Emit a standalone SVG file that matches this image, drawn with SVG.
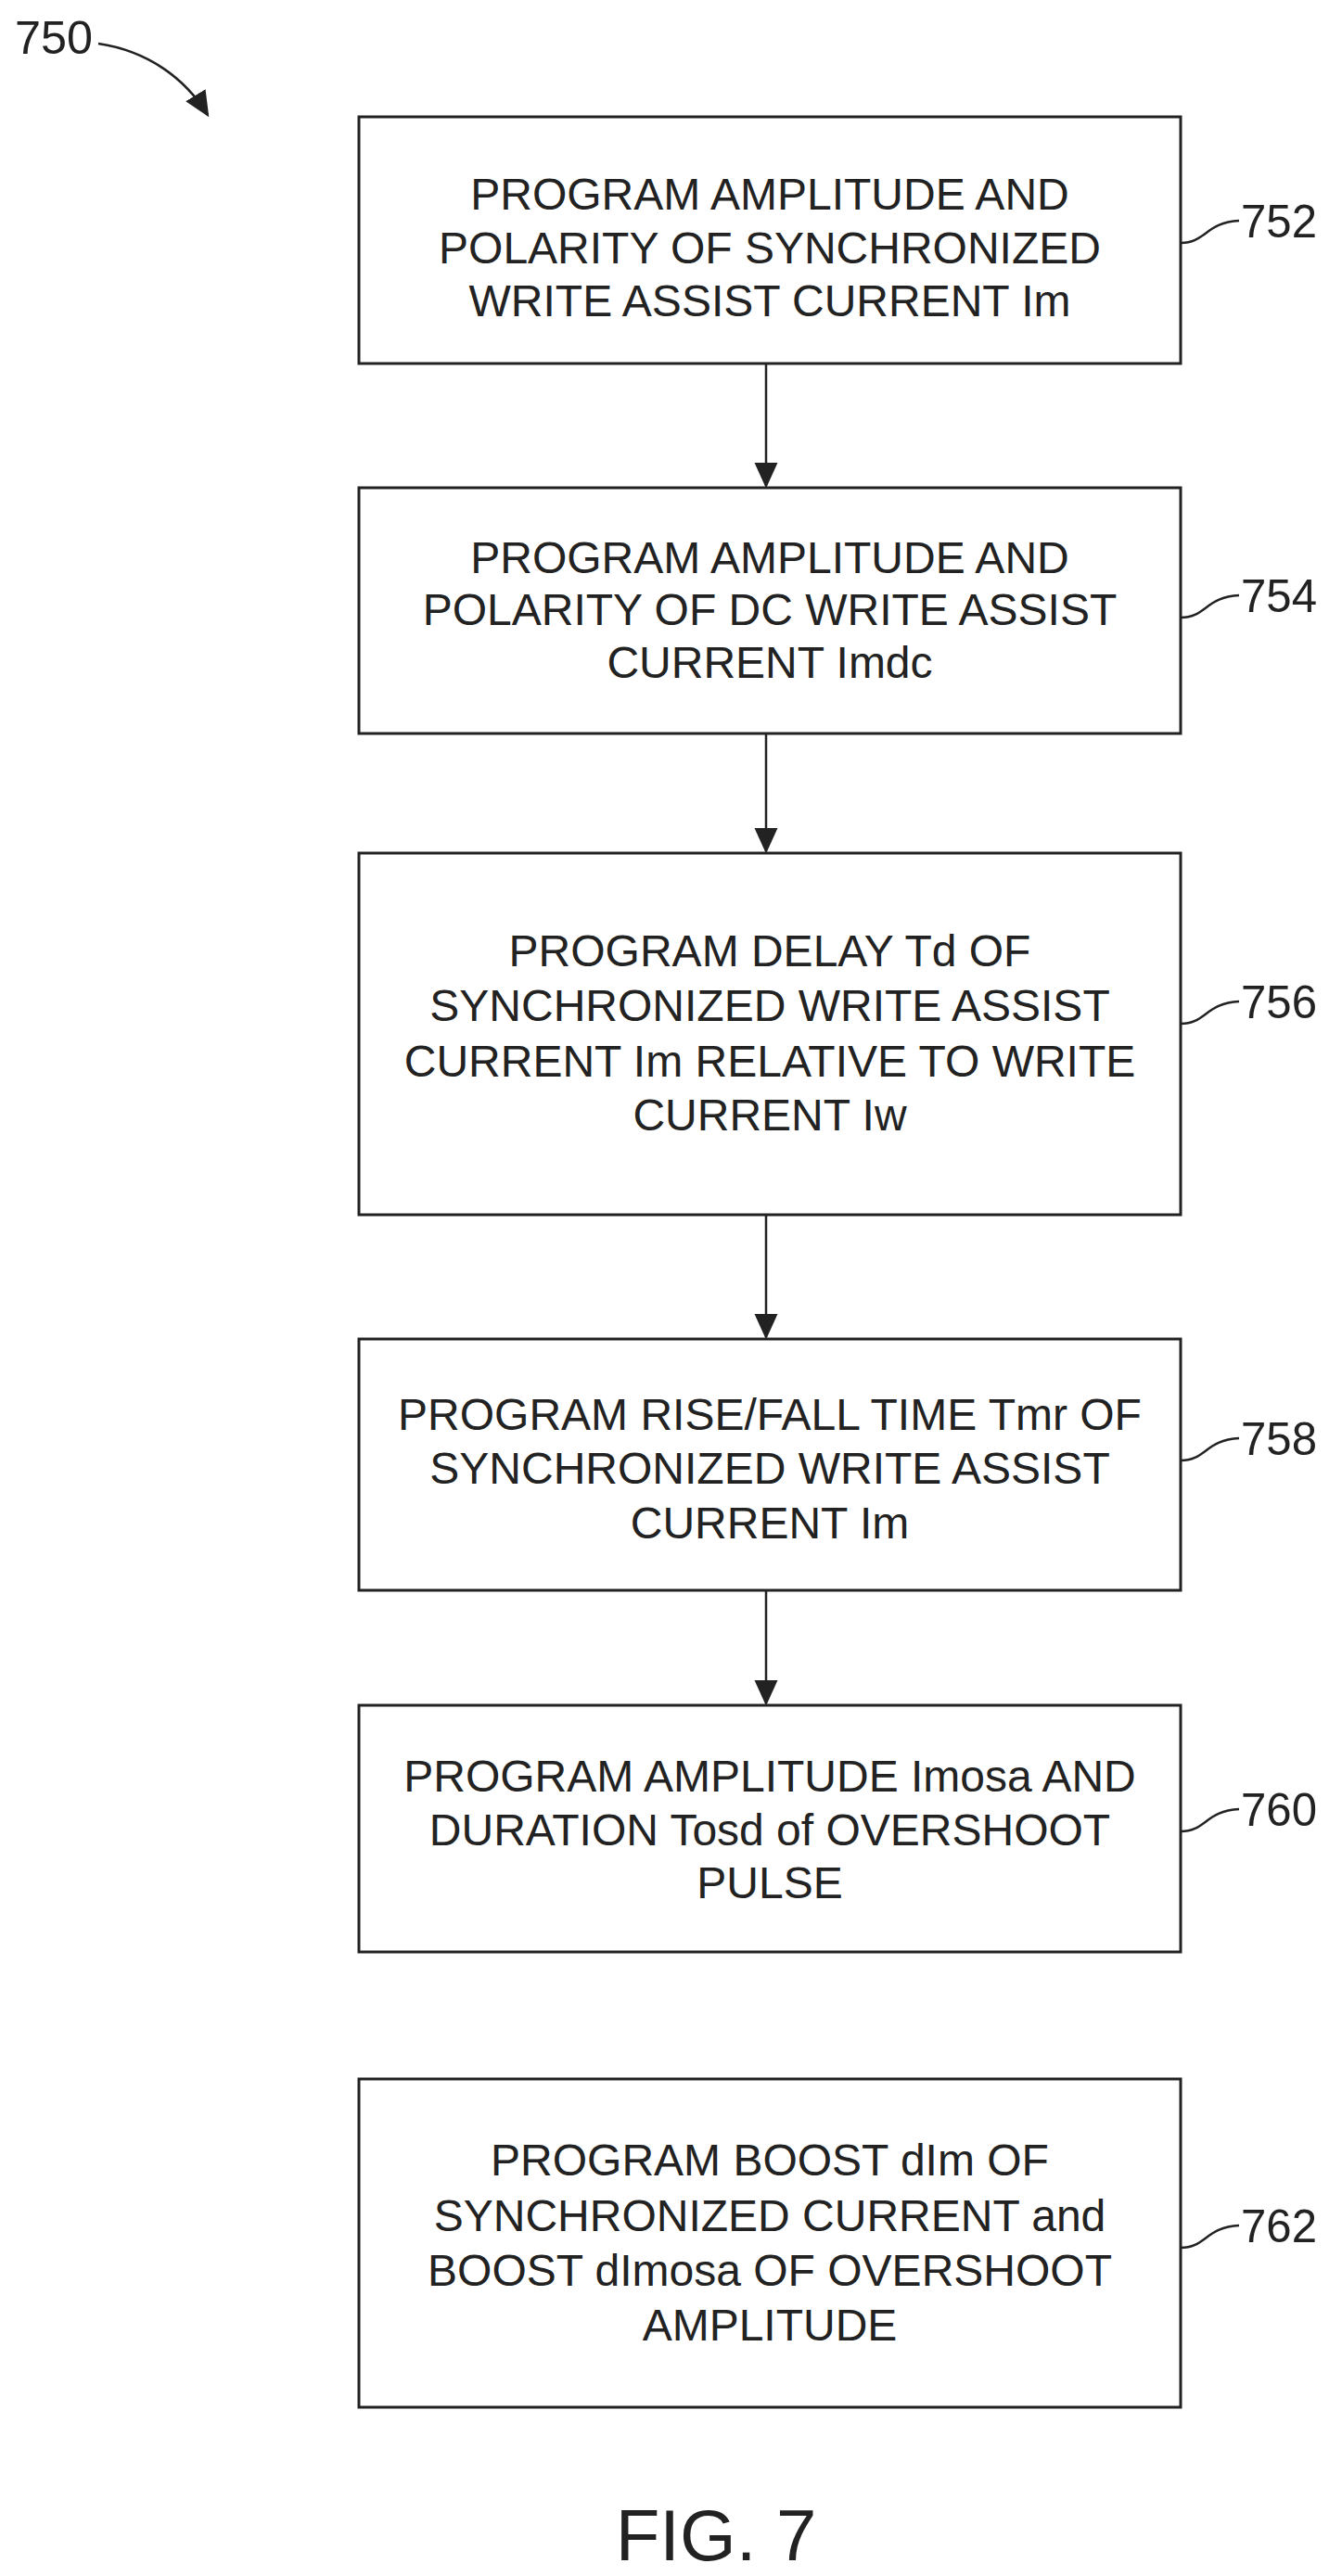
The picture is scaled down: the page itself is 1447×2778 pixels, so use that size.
<svg xmlns="http://www.w3.org/2000/svg" width="1447" height="2778" viewBox="0 0 1447 2778">
<style>
.b{fill:#fff;stroke:#222;stroke-width:3}
.t{font-family:"Liberation Sans",Arial,sans-serif;font-size:48px;fill:#222;text-anchor:middle}
.l{font-family:"Liberation Sans",Arial,sans-serif;font-size:50px;fill:#222}
.c{fill:none;stroke:#222;stroke-width:2.5}
</style>
<defs><marker id="a" markerWidth="12" markerHeight="12" refX="10" refY="6" orient="auto" markerUnits="strokeWidth"><path d="M0,1 L11,6 L0,11 Z" fill="#222"/></marker></defs>
<text class="l" x="16" y="58" textLength="84" lengthAdjust="spacingAndGlyphs">750</text>
<path class="c" d="M106,47 C160,55 200,85 224,124" marker-end="url(#a)"/>
<g id="n752"><rect class="b" x="387" y="126" width="886" height="266"/>
<text class="t"><tspan x="830" y="226">PROGRAM AMPLITUDE AND</tspan><tspan x="830" y="284">POLARITY OF SYNCHRONIZED</tspan><tspan x="830" y="341">WRITE ASSIST CURRENT Im</tspan></text>
<path class="c" d="M1273,262 C1300,262 1300,240 1336,238"/><text class="l" x="1338" y="256" textLength="82" lengthAdjust="spacingAndGlyphs">752</text></g>
<g id="n754"><rect class="b" x="387" y="526" width="886" height="265"/>
<text class="t"><tspan x="830" y="618">PROGRAM AMPLITUDE AND</tspan><tspan x="830" y="674">POLARITY OF DC WRITE ASSIST</tspan><tspan x="830" y="731">CURRENT Imdc</tspan></text>
<path class="c" d="M1273,666 C1300,666 1300,644 1336,642"/><text class="l" x="1338" y="660" textLength="82" lengthAdjust="spacingAndGlyphs">754</text></g>
<g id="n756"><rect class="b" x="387" y="920" width="886" height="390"/>
<text class="t"><tspan x="830" y="1042">PROGRAM DELAY Td OF</tspan><tspan x="830" y="1101">SYNCHRONIZED WRITE ASSIST</tspan><tspan x="830" y="1161">CURRENT Im RELATIVE TO WRITE</tspan><tspan x="830" y="1219">CURRENT Iw</tspan></text>
<path class="c" d="M1273,1104 C1300,1104 1300,1082 1336,1080"/><text class="l" x="1338" y="1098" textLength="82" lengthAdjust="spacingAndGlyphs">756</text></g>
<g id="n758"><rect class="b" x="387" y="1444" width="886" height="271"/>
<text class="t"><tspan x="830" y="1542">PROGRAM RISE/FALL TIME Tmr OF</tspan><tspan x="830" y="1600">SYNCHRONIZED WRITE ASSIST</tspan><tspan x="830" y="1659">CURRENT Im</tspan></text>
<path class="c" d="M1273,1575 C1300,1575 1300,1553 1336,1551"/><text class="l" x="1338" y="1569" textLength="82" lengthAdjust="spacingAndGlyphs">758</text></g>
<g id="n760"><rect class="b" x="387" y="1839" width="886" height="266"/>
<text class="t"><tspan x="830" y="1932">PROGRAM AMPLITUDE Imosa AND</tspan><tspan x="830" y="1990">DURATION Tosd of OVERSHOOT</tspan><tspan x="830" y="2047">PULSE</tspan></text>
<path class="c" d="M1273,1975 C1300,1975 1300,1953 1336,1951"/><text class="l" x="1338" y="1969" textLength="82" lengthAdjust="spacingAndGlyphs">760</text></g>
<g id="n762"><rect class="b" x="387" y="2242" width="886" height="354"/>
<text class="t"><tspan x="830" y="2346">PROGRAM BOOST dIm OF</tspan><tspan x="830" y="2406">SYNCHRONIZED CURRENT and</tspan><tspan x="830" y="2465">BOOST dImosa OF OVERSHOOT</tspan><tspan x="830" y="2524">AMPLITUDE</tspan></text>
<path class="c" d="M1273,2424 C1300,2424 1300,2402 1336,2400"/><text class="l" x="1338" y="2418" textLength="82" lengthAdjust="spacingAndGlyphs">762</text></g>
<g id="connectors">
<line class="c" x1="826" y1="392" x2="826" y2="524" marker-end="url(#a)"/>
<line class="c" x1="826" y1="791" x2="826" y2="918" marker-end="url(#a)"/>
<line class="c" x1="826" y1="1310" x2="826" y2="1442" marker-end="url(#a)"/>
<line class="c" x1="826" y1="1715" x2="826" y2="1837" marker-end="url(#a)"/>
</g>
<text class="t" style="font-size:78px" x="772" y="2761">FIG. 7</text>
</svg>
